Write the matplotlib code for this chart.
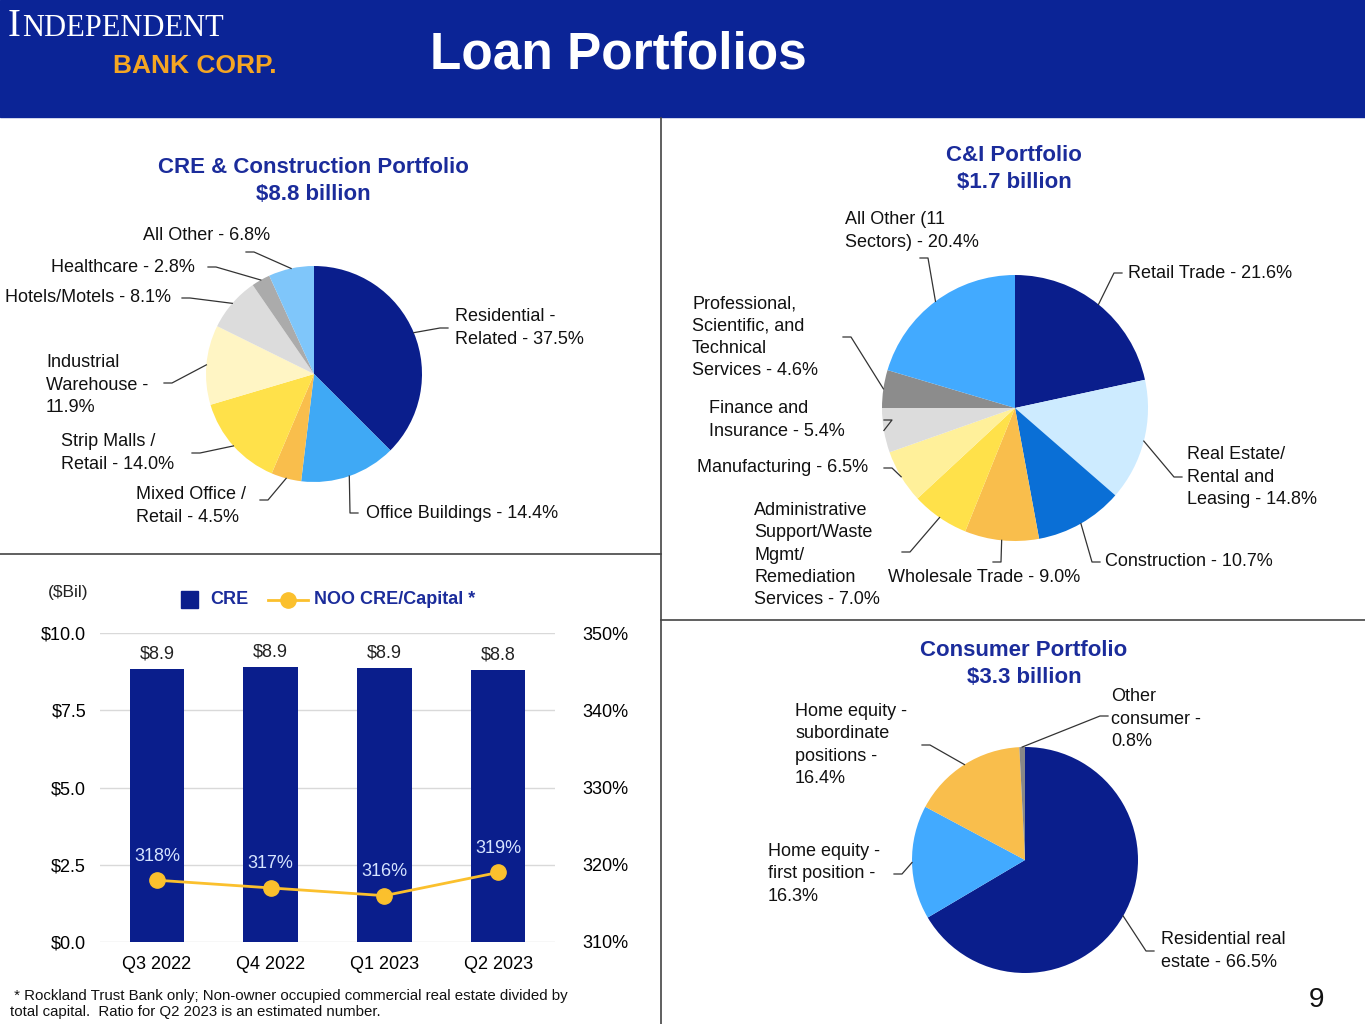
import matplotlib
matplotlib.use("Agg")
import matplotlib.pyplot as plt
import numpy as np
from matplotlib.lines import Line2D
from matplotlib.patches import Rectangle

plt.rcParams["font.family"] = ["Liberation Sans", "DejaVu Sans"]

W, H = 1365, 1024
NAVY = "#0A1E8C"
TITLE = "#1B2C9B"

# ---- data ----
cre_labels = ["Residential -\nRelated - 37.5%", "Office Buildings - 14.4%", "Mixed Office /\nRetail - 4.5%",
              "Strip Malls /\nRetail - 14.0%", "Industrial\nWarehouse -\n11.9%", "Hotels/Motels - 8.1%",
              "Healthcare - 2.8%", "All Other - 6.8%"]
cre_values = [37.5, 14.4, 4.5, 14.0, 11.9, 8.1, 2.8, 6.8]
cre_colors = [NAVY, "#3FA9F5", "#F9BE4C", "#FFE14A", "#FFF5C4", "#DCDCDC", "#ABABAB", "#7FC6FA"]

ci_labels = ["Retail Trade - 21.6%", "Real Estate/\nRental and\nLeasing - 14.8%", "Construction - 10.7%",
             "Wholesale Trade - 9.0%", "Administrative\nSupport/Waste\nMgmt/\nRemediation\nServices - 7.0%",
             "Manufacturing - 6.5%", "Finance and\nInsurance - 5.4%",
             "Professional,\nScientific, and\nTechnical\nServices - 4.6%", "All Other (11\nSectors) - 20.4%"]
ci_values = [21.6, 14.8, 10.7, 9.0, 7.0, 6.5, 5.4, 4.6, 20.4]
ci_colors = [NAVY, "#CDEBFF", "#0A6FD6", "#F9BE4C", "#FFE14A", "#FFF09A", "#DCDCDC", "#8C8C8C", "#42AAFF"]

con_labels = ["Residential real\nestate - 66.5%", "Home equity -\nfirst position -\n16.3%",
              "Home equity -\nsubordinate\npositions -\n16.4%", "Other\nconsumer -\n0.8%"]
con_values = [66.5, 16.3, 16.4, 0.8]
con_colors = [NAVY, "#42AAFF", "#F9BE4C", "#888888"]

quarters = ["Q3 2022", "Q4 2022", "Q1 2023", "Q2 2023"]
cre_bil = [8.85, 8.9, 8.87, 8.8]
cre_bil_labels = ["$8.9", "$8.9", "$8.9", "$8.8"]
noo_ratio = [318, 317, 316, 319]

fig = plt.figure(figsize=(W / 100, H / 100), dpi=100)


def box(x, y, w, h):
    return [x / W, 1 - (y + h) / H, w / W, h / H]


def ftext(x, y, s, **kw):
    fig.text(x / W, 1 - y / H, s, **kw)


def fline(xs, ys, **kw):
    fig.add_artist(Line2D([x / W for x in xs], [1 - y / H for y in ys], transform=fig.transFigure, **kw))


# header
fig.add_artist(Rectangle((0, 1 - 117 / H), 1, 117 / H, transform=fig.transFigure, color="#0B2496", zorder=0))
ftext(8, 27, "I", color="white", fontsize=28, family="Liberation Serif", va="center")
ftext(22, 29, "NDEPENDENT", color="white", fontsize=22, family="Liberation Serif", va="center")
ftext(113, 66, "BANK CORP.", color="#F5A623", fontsize=19, fontweight="bold", va="center")
ftext(618, 55, "Loan Portfolios", color="white", fontsize=37, fontweight="bold", ha="center", va="center")

# dividers
fline([661, 661], [118, 1024], color="#444444", lw=1.2)
fline([0, 661], [554, 554], color="#444444", lw=1.2)
fline([661, 1365], [620, 620], color="#444444", lw=1.2)


def draw_pie(cx, cy, r, values, colors, labels, specs):
    ax = fig.add_axes(box(cx - r, cy - r, 2 * r, 2 * r))
    wedges, _ = ax.pie(values, colors=colors, startangle=90, counterclock=False,
                       wedgeprops=dict(linewidth=0))
    ax.set_xlim(-1, 1)
    ax.set_ylim(-1, 1)
    ax.set_aspect("equal")
    for w, lab, (tx, ty, axp, ayp) in zip(wedges, labels, specs):
        ang = np.deg2rad((w.theta1 + w.theta2) / 2)
        ex = cx + r * np.cos(ang)
        ey = cy - r * np.sin(ang)
        elbow = axp - 8 if tx > axp else axp + 8
        fline([ex, elbow, axp], [ey, ayp, ayp], color="#333333", lw=0.9)
        ftext(tx, ty, lab, fontsize=13, color="#111111", va="center", ha="left", linespacing=1.4)


# CRE pie
ftext(313, 181, "CRE & Construction Portfolio\n$8.8 billion", fontsize=16, fontweight="bold",
      color=TITLE, ha="center", va="center", linespacing=1.35)
draw_pie(314, 374, 108, cre_values, cre_colors, cre_labels, [
    (455, 328, 448, 328), (366, 513, 358, 513), (136, 506, 260, 500), (61, 453, 192, 453),
    (46, 385, 164, 383), (5, 298, 182, 298), (51, 267, 208, 267), (143, 236, 246, 252)])

# C&I pie
ftext(1014, 169, "C&I Portfolio\n$1.7 billion", fontsize=16, fontweight="bold",
      color=TITLE, ha="center", va="center", linespacing=1.35)
draw_pie(1015, 408, 133, ci_values, ci_colors, ci_labels, [
    (1128, 273, 1122, 273), (1187, 477, 1182, 477), (1105, 562, 1100, 562), (888, 577, 993, 562),
    (754, 555, 902, 552), (697, 468, 884, 468), (709, 420, 884, 420), (692, 337, 843, 337),
    (845, 231, 920, 258)])

# Consumer pie
ftext(1024, 664, "Consumer Portfolio\n$3.3 billion", fontsize=16, fontweight="bold",
      color=TITLE, ha="center", va="center", linespacing=1.35)
draw_pie(1025, 860, 113, con_values, con_colors, con_labels, [
    (1161, 951, 1154, 951), (768, 874, 894, 874), (795, 745, 922, 745), (1111, 719, 1108, 716)])

# bar chart
ax = fig.add_axes(box(100, 633, 455, 309))
x = np.arange(len(quarters))
ax.bar(x, cre_bil, width=0.48, color=NAVY, zorder=2)
ax.set_ylim(0, 10)
ax.set_xlim(-0.5, 3.5)
ax.set_yticks([0, 2.5, 5, 7.5, 10])
ax.set_yticklabels(["$0.0", "$2.5", "$5.0", "$7.5", "$10.0"])
ax.set_xticks(x)
ax.set_xticklabels(quarters)
ax.grid(axis="y", color="#D9D9D9", lw=1, zorder=0)
for s in ax.spines.values():
    s.set_visible(False)
ax.tick_params(length=0, labelsize=13, pad=10)
for xi, v, lab in zip(x, cre_bil, cre_bil_labels):
    ax.text(xi, v + 0.2, lab, ha="center", va="bottom", fontsize=13, color="#222222")
ax2 = ax.twinx()
ax2.plot(x, noo_ratio, color="#FBC02D", marker="o", markersize=11, lw=2, zorder=3)
ax2.set_ylim(310, 350)
ax2.set_yticks([310, 320, 330, 340, 350])
ax2.set_yticklabels([f"{v}%" for v in [310, 320, 330, 340, 350]])
for s in ax2.spines.values():
    s.set_visible(False)
ax2.tick_params(length=0, labelsize=13, pad=20)
for xi, v in zip(x, noo_ratio):
    ax2.text(xi, v + 2.0, f"{v}%", ha="center", va="bottom", fontsize=13, color="#D6E4FF")

ftext(48, 592, "($Bil)", fontsize=12.5, color="#222222", va="center")
fig.add_artist(Rectangle((181 / W, 1 - 608 / H), 17 / W, 17 / H, transform=fig.transFigure, color=NAVY))
ftext(210, 600, "CRE", fontsize=13, fontweight="bold", color=TITLE, va="center")
fline([268, 308], [600, 600], color="#FBC02D", lw=2)
fig.add_artist(Line2D([288 / W], [1 - 600 / H], marker="o", markersize=11, color="#FBC02D",
                      transform=fig.transFigure))
ftext(314, 600, "NOO CRE/Capital *", fontsize=13, fontweight="bold", color=TITLE, va="center")

ftext(10, 1004, " * Rockland Trust Bank only; Non-owner occupied commercial real estate divided by\ntotal capital.  Ratio for Q2 2023 is an estimated number.",
      fontsize=10.8, color="#111111", va="center", linespacing=1.2)
ftext(1316, 1000, "9", fontsize=20, color="#111111", ha="center", va="center")

fig.savefig("out.png", dpi=100)
